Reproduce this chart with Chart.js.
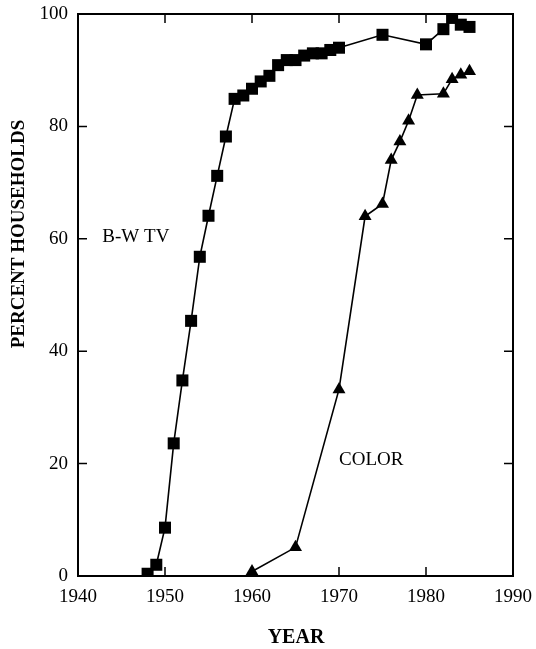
<!DOCTYPE html>
<html>
<head>
<meta charset="utf-8">
<script src="https://cdn.jsdelivr.net/npm/chart.js@4"></script>
<style>
  html, body { margin: 0; padding: 0; background: #ffffff; }
  #wrap { width: 536px; height: 649px; }
</style>
</head>
<body>
<div id="wrap"><canvas id="tvChart" width="536" height="649"></canvas></div>
<script>
// Data
const bwYears = [1948, 1949, 1950, 1951, 1952, 1953, 1954, 1955, 1956, 1957, 1958, 1959, 1960, 1961, 1962, 1963, 1964, 1965, 1966, 1967, 1968, 1969, 1970, 1975, 1980, 1982, 1983, 1984, 1985];
const bwValues = [0.4, 2.0, 8.6, 23.6, 34.8, 45.4, 56.8, 64.1, 71.2, 78.2, 84.9, 85.5, 86.7, 88.0, 89.0, 90.9, 91.8, 91.8, 92.6, 93.0, 93.0, 93.6, 94.0, 96.3, 94.6, 97.3, 99.3, 98.1, 97.7];
const colorYears = [1960, 1965, 1970, 1973, 1975, 1976, 1977, 1978, 1979, 1982, 1983, 1984, 1985];
const colorValues = [0.8, 5.1, 33.2, 64.0, 66.2, 74.0, 77.3, 81.0, 85.6, 85.8, 88.4, 89.2, 89.8];
const xTicks = [1940, 1950, 1960, 1970, 1980, 1990];
const yTicks = [0, 20, 40, 60, 80, 100];

const FONT = '"Liberation Serif", "DejaVu Serif", serif';

const toPoints = (xs, ys) => xs.map((x, i) => ({ x: x, y: ys[i] }));

// Frame, inward ticks and text labels
const framePlugin = {
    id: 'frame',
    afterDraw(chart) {
        const ctx = chart.ctx;
        const area = chart.chartArea;
        const xs = chart.scales.x;
        const ys = chart.scales.y;
        const tick = 9;

        ctx.save();
        ctx.strokeStyle = '#000';
        ctx.lineWidth = 2;
        ctx.strokeRect(area.left, area.top, area.right - area.left, area.bottom - area.top);

        ctx.lineWidth = 1.5;
        ctx.beginPath();
        xTicks.slice(1, -1).forEach(v => {
            const px = xs.getPixelForValue(v);
            ctx.moveTo(px, area.bottom);
            ctx.lineTo(px, area.bottom - tick);
            ctx.moveTo(px, area.top);
            ctx.lineTo(px, area.top + tick);
        });
        yTicks.slice(1, -1).forEach(v => {
            const py = ys.getPixelForValue(v);
            ctx.moveTo(area.left, py);
            ctx.lineTo(area.left + tick, py);
            ctx.moveTo(area.right, py);
            ctx.lineTo(area.right - tick, py);
        });
        ctx.stroke();

        // Series labels
        ctx.fillStyle = '#000';
        ctx.font = '19px ' + FONT;
        ctx.textAlign = 'left';
        ctx.textBaseline = 'middle';
        ctx.fillText('B-W TV', xs.getPixelForValue(1942.8), ys.getPixelForValue(60.4));
        ctx.fillText('COLOR', xs.getPixelForValue(1970), ys.getPixelForValue(20.7));

        // Axis titles
        ctx.font = 'bold 20px ' + FONT;
        ctx.textAlign = 'center';
        ctx.fillText('YEAR', 296, 638);
        ctx.translate(19, 234);
        ctx.rotate(-Math.PI / 2);
        ctx.font = 'bold 19px ' + FONT;
        ctx.fillText('PERCENT HOUSEHOLDS', 0, 0);
        ctx.restore();
    }
};

const seriesStyle = {
    showLine: true,
    borderColor: '#000',
    backgroundColor: '#000',
    pointBackgroundColor: '#000',
    pointBorderColor: '#000',
    borderWidth: 1.6,
    pointBorderWidth: 0,
    tension: 0
};

document.addEventListener('DOMContentLoaded', () => {
    const ctx = document.getElementById('tvChart').getContext('2d');
    new Chart(ctx, {
        type: 'scatter',
        data: {
            datasets: [
                Object.assign({
                    label: 'B-W TV',
                    data: toPoints(bwYears, bwValues),
                    pointStyle: 'rect',
                    pointRadius: 8.5,
                    pointHoverRadius: 8.5
                }, seriesStyle),
                Object.assign({
                    label: 'COLOR',
                    data: toPoints(colorYears, colorValues),
                    pointStyle: 'triangle',
                    pointRadius: 7.5,
                    pointHoverRadius: 7.5
                }, seriesStyle)
            ]
        },
        options: {
            responsive: false,
            animation: false,
            layout: {
                padding: { top: 14, right: 23, bottom: 0, left: 0 }
            },
            plugins: {
                legend: { display: false },
                tooltip: { enabled: false }
            },
            scales: {
                x: {
                    type: 'linear',
                    min: 1940,
                    max: 1990,
                    afterFit: (scale) => {
                        scale.height = 73;
                        scale.paddingLeft = 0;
                        scale.paddingRight = 0;
                    },
                    afterBuildTicks: (scale) => { scale.ticks = xTicks.map(v => ({ value: v })); },
                    grid: { display: false, drawTicks: false },
                    border: { display: false },
                    ticks: {
                        color: '#000',
                        padding: 10,
                        maxRotation: 0,
                        font: { family: FONT, size: 19 },
                        callback: (v) => String(v)
                    }
                },
                y: {
                    min: 0,
                    max: 100,
                    afterFit: (scale) => {
                        scale.width = 78;
                        scale.paddingTop = 0;
                        scale.paddingBottom = 0;
                    },
                    afterBuildTicks: (scale) => { scale.ticks = yTicks.map(v => ({ value: v })); },
                    grid: { display: false, drawTicks: false },
                    border: { display: false },
                    ticks: {
                        color: '#000',
                        padding: 10,
                        font: { family: FONT, size: 19 }
                    }
                }
            }
        },
        plugins: [framePlugin]
    });
});
</script>
</body>
</html>
